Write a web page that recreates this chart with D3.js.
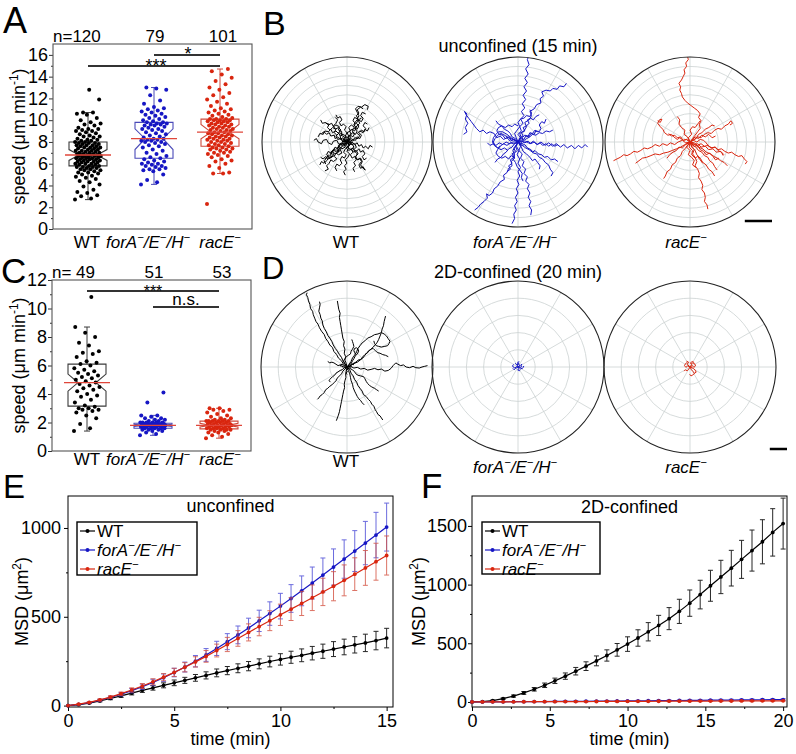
<!DOCTYPE html>
<html><head><meta charset="utf-8">
<script src="https://cdn.jsdelivr.net/npm/d3@7"></script>
<style>body{margin:0;background:#fff} svg text{font-family:"Liberation Sans",Arial,Helvetica,sans-serif;fill:#000}</style>
</head><body><svg id="c" width="796" height="754"></svg>
<script>
// ================= DATA =================
const cats = ["WT", "forA", "racE"];

// Panel A: speeds (µm/min), unconfined
const speedA_WT = [2.7,2.8,3.0,3.1,3.3,3.4,3.6,3.9,4.1,4.3,4.4,4.6,4.7,4.8,4.9,5.0,5.1,5.2,5.2,5.3,5.4,5.4,5.5,5.5,5.6,5.6,5.7,5.7,5.7,5.8,
 5.8,5.9,5.9,6.0,6.0,6.0,6.1,6.1,6.2,6.2,6.2,6.3,6.3,6.4,6.4,6.4,6.5,6.5,6.5,6.6,6.6,6.6,6.7,6.7,6.7,6.7,6.8,6.8,6.8,6.8,
 6.9,6.9,6.9,7.0,7.0,7.0,7.1,7.1,7.2,7.2,7.2,7.3,7.3,7.4,7.4,7.5,7.5,7.5,7.6,7.6,7.7,7.7,7.7,7.8,7.8,7.9,7.9,7.9,8.0,8.0,
 8.1,8.1,8.2,8.2,8.3,8.4,8.5,8.5,8.6,8.7,8.8,8.9,9.0,9.0,9.1,9.2,9.2,9.3,9.5,9.6,9.7,9.8,10.0,10.2,10.5,10.6,10.7,10.7,11.9,12.8];
const speedA_for = [4.1,4.3,4.5,5.0,5.3,5.4,5.5,5.5,5.6,5.7,5.8,5.8,5.9,6.0,6.0,6.1,6.2,6.3,6.4,6.5,
 6.6,6.7,6.9,7.0,7.2,7.3,7.5,7.6,7.7,7.8,7.9,8.0,8.0,8.1,8.1,8.2,8.2,8.3,8.3,
 8.4,8.5,8.6,8.7,8.8,8.9,9.0,9.1,9.2,9.2,9.3,9.4,9.5,9.5,9.6,9.6,9.7,9.7,9.8,9.8,
 9.9,10.0,10.1,10.2,10.3,10.4,10.5,10.6,10.7,10.8,10.9,11.0,11.1,11.2,11.5,11.8,12.3,12.8,12.9,13.0];
const speedA_rac = [2.3,5.1,5.1,5.2,5.6,5.8,6.0,6.2,6.3,6.4,6.6,6.7,6.8,6.9,7.0,7.0,7.1,7.2,7.3,7.3,7.4,7.4,7.5,7.5,7.6,
 7.7,7.7,7.8,7.8,7.9,8.0,8.0,8.1,8.1,8.2,8.2,8.3,8.3,8.4,8.4,8.5,8.5,8.6,8.6,8.7,8.7,8.8,8.8,8.9,8.9,
 9.0,9.0,9.1,9.1,9.2,9.2,9.3,9.3,9.4,9.4,9.5,9.5,9.6,9.6,9.7,9.7,9.8,9.8,9.9,9.9,10.0,10.0,10.0,10.1,10.1,10.1,
 10.2,10.3,10.4,10.5,10.6,10.7,10.8,10.9,11.0,11.1,11.3,11.5,11.7,11.9,12.1,12.3,12.5,12.8,13.0,13.3,13.6,13.9,14.2,14.5,14.7];
// box stats: [whiskerLo, Q1, median, Q3, whiskerHi, notchLo, notchHi]
const statsA_WT = [2.7, 5.8, 6.8, 8.0, 10.7, 6.3, 7.3];
const statsA_for = [4.1, 6.5, 8.3, 9.8, 13.0, 7.3, 9.2];
const statsA_rac = [5.1, 7.6, 8.9, 10.1, 14.7, 8.3, 9.6];
const ticksA = [0,2,4,6,8,10,12,14,16];
const minorA = [1,3,5,7,9,11,13,15];

// Panel C: speeds (µm/min), 2D-confined
const speedC_WT = [1.4,1.6,1.9,2.3,2.5,2.7,2.8,2.9,2.9,3.0,3.0,3.1,
 3.2,3.4,3.6,3.8,3.9,4.0,4.2,4.3,4.4,4.5,4.6,4.7,
 4.8,4.9,5.0,5.1,5.2,5.3,5.4,5.5,5.6,5.7,5.8,6.0,6.1,
 6.2,6.3,6.6,6.8,6.9,7.0,7.4,7.6,8.0,8.3,8.7,10.8];
const speedC_for = [1.1,1.2,1.3,1.4,1.4,1.5,1.5,1.5,1.6,1.6,1.6,1.6,1.6,
 1.7,1.7,1.7,1.7,1.7,1.7,1.8,1.8,1.8,1.8,1.8,1.8,1.8,
 1.8,1.9,1.9,1.9,1.9,1.9,1.9,1.9,2.0,2.0,2.0,2.0,
 2.0,2.0,2.1,2.1,2.2,2.2,2.3,2.3,2.4,2.5,2.5,3.4,4.1];
const speedC_rac = [0.9,1.0,1.1,1.2,1.3,1.3,1.4,1.4,1.5,1.5,1.5,1.5,1.6,
 1.6,1.6,1.6,1.7,1.7,1.7,1.7,1.7,1.8,1.8,1.8,1.8,1.8,
 1.9,1.9,1.9,1.9,2.0,2.0,2.0,2.0,2.1,2.1,2.1,2.1,2.1,2.1,
 2.2,2.2,2.3,2.3,2.4,2.5,2.6,2.7,2.8,2.9,2.9,3.0,3.0];
const statsC_WT = [1.4, 3.15, 4.8, 6.1, 8.7, 4.2, 5.4];
const statsC_for = [1.1, 1.6, 1.8, 1.95, 2.5, 1.72, 1.88];
const statsC_rac = [0.9, 1.55, 1.8, 2.1, 3.0, 1.68, 1.95];
const ticksC = [0,2,4,6,8,10,12];
const minorC = [1,3,5,7,9,11];

// Panel B trajectories (µm, polar radius 100), unconfined 15 min
const tracksB_WT = [
"0,0 3,2 1,6 4,8 7,6 9,10 6,13 8,17 12,15 14,19 11,22 13,26 17,24 19,28 16,31 18,35 22,33",
"0,0 -2,3 -6,2 -8,6 -5,9 -9,11 -12,8 -15,11 -13,15 -17,17 -20,14 -23,17 -21,21 -25,22",
"0,0 -3,-2 -2,-6 -6,-8 -9,-5 -12,-8 -10,-12 -14,-14 -17,-11 -20,-14 -18,-18 -22,-20 -25,-17 -28,-20 -31,-18",
"0,0 2,-3 6,-2 8,-6 5,-9 8,-12 11,-10 13,-14 10,-17 12,-21 15,-19 17,-23 14,-27 16,-31 19,-29 21,-33",
"0,0 -4,1 -6,-3 -10,-2 -12,2 -16,1 -18,-3 -22,-1 -24,3 -28,2 -30,-2 -34,0 -36,4 -39,2",
"0,0 1,4 -2,7 0,11 -3,14 -1,18 -4,21 -7,19 -9,23 -6,26 -8,30 -11,28 -13,32",
"0,0 4,-1 6,3 10,2 12,6 15,4 17,8 14,11 17,14 20,12 22,16 19,19 21,23 24,21",
"0,0 -1,-4 2,-7 0,-11 3,-14 1,-18 -2,-21 0,-25 -3,-28 -1,-32 -4,-35 -2,-39",
"0,0 -3,3 -1,7 -5,9 -8,7 -10,11 -7,14 -10,17 -14,15 -16,19 -13,22 -11,26 -14,29",
"0,0 3,3 7,1 9,5 13,4 15,8 12,10 15,13 19,11 21,15 24,13 26,17",
"0,0 -4,-3 -7,-1 -10,-5 -8,-9 -12,-11 -15,-8 -17,-12 -15,-16 -19,-18 -22,-15 -24,-19 -27,-22 -25,-26",
"0,0 2,-4 -1,-7 2,-10 5,-8 7,-12 4,-15 6,-19 9,-17 11,-21 8,-24 10,-28 7,-31 9,-35",
"0,0 -2,2 -5,0 -7,4 -11,3 -13,7 -10,10 -13,13 -17,11 -19,15 -22,12 -26,13 -28,9 -32,10 -34,6",
"0,0 3,2 2,6 5,9 3,13 6,15 9,13 11,17 8,20 10,24 13,27 11,31 14,34 12,38 16,41 19,39",
"0,0 -3,-3 -6,-1 -9,-4 -11,-8 -14,-6 -16,-10 -19,-13 -22,-11 -24,-15 -21,-18 -24,-22 -27,-25 -30,-23 -32,-27",
"0,0 4,1 5,-3 9,-2 11,-6 8,-9 11,-11 14,-8 16,-12 19,-10 21,-14 18,-17 20,-21 23,-19",
"0,0 -1,4 2,7 0,11 4,13 2,17 5,20 8,18 10,22 7,25 9,29 12,27 14,31 12,35 10,39 13,42 17,41 21,44 25,42 24,38",
"0,0 -3,1 -5,5 -8,3 -11,6 -14,4 -15,8 -19,7 -21,11 -24,9 -27,12 -30,10",
"0,0 2,-2 1,-6 -2,-8 -4,-12 -1,-15 -3,-19 -6,-17 -8,-21 -6,-25 -9,-28 -12,-26 -14,-30 -12,-34",
"0,0 3,-3 6,0 9,-3 12,-1 14,-5 17,-3 19,-7 22,-5 25,-8 27,-4 30,-6",
"0,0 -2,-4 -6,-5 -8,-9 -6,-13 -10,-15 -13,-13 -15,-17 -12,-20 -16,-23 -19,-21 -21,-25 -24,-28 -22,-32 -26,-34",
"0,0 1,3 5,4 3,8 6,11 10,9 12,13 9,16 12,19 15,22 13,26 17,28",
"0,0 -4,2 -3,6 -7,8 -6,12 -10,14 -9,18 -13,20 -16,18 -18,22 -22,20 -25,23 -29,22 -31,26",
"0,0 2,1 4,-3 1,-6 4,-9 7,-7 9,-11 12,-14 10,-18 13,-21 16,-19 18,-23 16,-27 19,-31 22,-33",
"0,0 -3,0 -5,-4 -9,-3 -11,-7 -9,-11 -13,-12 -16,-9 -19,-12 -17,-16 -20,-19 -23,-17 -26,-20"
];
const tracksB_for = [
"0,0 3,5 0,9 4,13 2,18 6,22 3,27 7,31 4,36 8,40 5,45 9,50 6,55 10,60 7,65 11,70 8,75 12,80 9,86 13,91 11,97 14,104",
"0,0 4,5 2,10 7,13 10,18 8,23 13,26 16,31 14,36 19,39 22,44 27,46 26,51 30,54 28,59 33,61 38,60 41,63 46,62 49,66 54,65 57,69",
"0,0 -5,3 -9,1 -13,5 -17,3 -21,7 -25,5 -28,10 -33,12 -37,10 -41,14 -45,12 -49,16 -52,20 -55,24 -58,28 -61,32 -63,36 -60,33 -62,27 -59,22 -62,17 -60,12 -64,9",
"0,0 5,-2 9,1 14,-2 18,1 23,-3 27,0 32,-4 36,-1 41,-5 45,-2 50,-6 54,-3 58,-7 63,-4 67,-8 71,-4 75,-7 79,-3 82,-6",
"0,0 -3,-5 -1,-10 -5,-14 -4,-19 -8,-23 -7,-28 -11,-31 -13,-36 -17,-39 -16,-44 -21,-47 -24,-52 -28,-55 -30,-60 -34,-63 -37,-61 -36,-66 -40,-70 -44,-73 -47,-77 -51,-80",
"0,0 -2,-5 1,-10 -1,-15 2,-20 0,-25 3,-30 0,-35 2,-40 -1,-45 1,-50 -2,-55 0,-60 -3,-65 -1,-70 -4,-75 -2,-80 -5,-85 -4,-90 -7,-96",
"0,0 3,-5 1,-10 5,-14 3,-19 7,-23 5,-28 9,-32 7,-37 11,-41 9,-46 13,-50 11,-55 14,-60 12,-65 15,-70 13,-75 16,-80 15,-86",
"0,0 4,-4 8,-3 11,-7 15,-9 18,-13 22,-14 25,-18 29,-20 32,-24 36,-27 38,-32 41,-36 39,-40",
"0,0 -4,3 -8,2 -11,6 -15,4 -18,8 -22,9 -25,13 -23,17 -19,19 -15,17 -11,20 -7,18 -4,21 0,19",
"0,0 -5,-2 -9,-1 -13,-4 -17,-2 -21,-5 -24,-9 -26,-13 -23,-17 -19,-19 -15,-17 -11,-20 -8,-16 -4,-19",
"0,0 3,4 7,3 9,7 13,6 15,10 19,9 21,13 25,12 27,16 25,20 28,24 31,22 33,27",
"0,0 4,2 8,-1 12,1 15,-2 19,0 22,-3 26,-1 29,-4 33,-2 36,-5 40,-2 43,-5 47,-3",
"0,0 -2,-4 -5,-7 -3,-11 -7,-14 -5,-18 -9,-21 -7,-25 -11,-28 -9,-32 -13,-35",
"0,0 2,5 6,7 4,11 8,13 6,17 10,19 13,22 11,26 15,28 18,26 21,30 25,32",
"0,0 -6,3 -11,5 -16,8 -20,10 -24,8 -27,4 -29,0 -27,-4 -24,-7 -20,-9 -16,-7 -12,-10",
"0,0 5,-4 9,-7 13,-9 17,-12 20,-10 24,-14 28,-15 31,-18 35,-17 39,-21 43,-20 47,-23",
"0,0 -2,5 -4,10 -1,14 2,18 0,23 3,27 7,28 10,31 14,30 16,34 14,38",
"0,0 6,1 10,4 14,6 17,9 21,8 25,11 29,10 33,13 37,12 41,14",
"0,0 -3,-5 -6,-10 -4,-15 -6,-20 -3,-24 -1,-29 2,-33 5,-37 4,-42 6,-46",
"0,0 -6,0 -10,-2 -14,0 -18,-3 -22,-1 -26,-4 -29,-2 -33,-4 -36,-1",
"0,0 -8,5 -13,9 -18,12 -23,12 -26,9 -29,5 -30,0 -28,-4 -24,-7 -21,-5",
"0,0 4,-6 6,-11 10,-14 14,-18 17,-22 20,-20 23,-24 26,-28 25,-32",
"0,0 -3,4 -7,6 -9,10 -12,13 -16,15 -19,19 -23,21 -26,25",
"0,0 3,-2 6,1 5,5 8,8 12,7 14,11 17,10 20,14 23,12",
"0,0 -4,-2 -7,-6 -11,-8 -14,-12 -17,-14 -20,-18 -24,-20 -27,-24"
];
const tracksB_rac = [
"0,0 3,4 6,8 9,12 12,16 11,21 13,25 10,29 12,33 9,37 5,40 1,43 -3,46 -6,49 -9,53 -10,57 -12,61 -11,65 -13,69 -10,73 -8,77 -6,81 -7,85 -4,89 -5,93 -2,97 -3,101 -1,106",
"0,0 -5,-1 -9,2 -14,0 -18,-3 -23,-1 -27,-4 -32,-2 -36,-5 -41,-3 -45,-6 -50,-8 -54,-7 -58,-10 -62,-12 -66,-11 -70,-14 -74,-16 -78,-15 -82,-18 -86,-20 -90,-22",
"0,0 -4,3 -8,2 -12,5 -15,3 -19,6 -22,9 -26,8 -30,11 -32,15 -35,18 -38,22 -36,26 -33,27 -35,23 -38,25",
"0,0 5,-1 9,-4 13,-2 17,-5 21,-4 25,-7 29,-6 33,-9 37,-8 41,-11 45,-13 49,-12 53,-15 57,-17 61,-16 64,-20 67,-23 65,-26",
"0,0 2,-5 5,-9 3,-14 6,-18 8,-23 6,-28 9,-32 11,-37 10,-42 13,-46 15,-51 14,-56 17,-60 18,-65 17,-70 20,-74 21,-79",
"0,0 -3,-4 -6,-8 -9,-11 -11,-16 -15,-19 -17,-24 -21,-27 -23,-32 -27,-35 -29,-40 -31,-43",
"0,0 5,3 9,6 13,5 17,9 21,11 25,10 29,14 33,16 37,15 41,19 45,21 48,25 50,22 47,20",
"0,0 -6,-3 -11,-6 -16,-8 -21,-10 -26,-12 -31,-13 -36,-15 -41,-14 -46,-16 -51,-18 -56,-19 -60,-22 -64,-25",
"0,0 4,2 8,0 12,3 16,2 19,-1 22,-5 26,-7 30,-6 33,-10 37,-12 39,-16",
"0,0 -4,3 -8,2 -11,6 -15,5 -18,8 -22,7 -25,10",
"0,0 3,-4 7,-6 10,-10 14,-12 17,-16 21,-18 23,-22 27,-25 29,-29 32,-33",
"0,0 -2,5 2,9 0,14 3,18 6,17 9,21 12,25",
"0,0 6,-3 10,-6 15,-8 19,-12 24,-14 28,-17 32,-19 36,-22 40,-24 44,-28",
"0,0 -5,-3 -9,-7 -13,-6 -16,-10 -20,-12 -24,-15 -27,-19",
"0,0 2,-6 6,-10 8,-15 12,-19 15,-24 19,-27 22,-32 26,-35 29,-40",
"0,0 -3,6 -7,9 -6,14 -10,17 -13,21 -12,26 -15,30",
"0,0 7,4 10,9 14,11 18,15 22,17 26,20 29,19",
"0,0 4,-3 9,-2 13,-6 18,-5 22,-9 27,-8 31,-12 36,-11 40,-15",
"0,0 -1,-6 3,-10 2,-15 6,-19 9,-17 12,-21 15,-25",
"0,0 6,6 10,4 14,8 18,6 22,9 26,5 30,7",
"0,0 5,-5 9,-4 12,-9 16,-11 19,-15 23,-13 27,-17 30,-21 34,-19",
"0,0 -4,-6 0,-10 -2,-15 2,-18 5,-22 3,-27 7,-30"
];
// Panel D trajectories (µm, polar radius 250), 2D-confined 20 min
const tracksD_WT = [
"0,0 -10,8 -16,18 -25,26 -30,36 -38,45 -42,56 -50,64 -56,75 -62,83 -66,94 -74,104 -80,114 -84,124 -90,132 -94,142 -98,152 -100,162 -106,170 -108,182 -112,192 -114,202 -118,210 -116,216",
"0,0 -6,10 -12,18 -16,28 -22,36 -28,46 -34,54 -40,64 -44,74 -50,84 -56,92 -60,102 -66,112 -70,122 -72,134 -76,142 -78,152 -82,162 -80,172 -78,182 -80,190",
"0,0 -2,10 -6,20 -4,30 -8,40 -6,52 -10,62 -8,74 -12,84 -14,96 -16,108 -18,120 -20,132 -22,144 -20,156 -24,168 -26,180 -28,192",
"0,0 6,8 12,16 16,26 22,34 28,44 32,54 38,62 44,70 52,76 60,84 70,88 80,94 90,96 100,100 108,96 115,90 120,82 125,75 122,68 118,62 110,60 100,58 92,60 85,62 80,68 78,76",
"0,0 10,4 18,10 26,14 32,20 40,22 46,30 52,36 58,40 64,46 70,52 76,58 82,64 88,72 92,80 96,90 100,100 102,110 106,120 108,132 110,140 112,148",
"0,0 10,2 20,-3 30,-1 40,-6 50,-4 60,-9 70,-7 80,-4 90,-8 100,-6 110,-12 120,-10 128,-4 134,4 142,12 148,8 156,4 164,6 172,0 182,-2 192,2 200,-2 210,-3 218,0 226,2 234,4",
"0,0 8,-8 12,-18 18,-26 22,-36 28,-44 32,-54 38,-62 44,-70 48,-80 56,-86 62,-94 68,-100 72,-108 78,-114 82,-124 86,-130 90,-138 96,-142 100,-148 104,-154",
"0,0 4,-10 8,-20 10,-30 12,-40 16,-50 18,-60 22,-70 26,-78 30,-86 34,-92 40,-98 44,-104 50,-110",
"0,0 -6,-6 -12,-12 -16,-20 -22,-26 -28,-32 -32,-40 -38,-46 -44,-52 -50,-56 -56,-62 -62,-66 -66,-74 -72,-80 -78,-84 -82,-90 -86,-94",
"0,0 -2,-10 -4,-20 -3,-30 -6,-40 -8,-50 -7,-60 -10,-70 -12,-80 -14,-90 -16,-100 -18,-110 -20,-120 -22,-130 -25,-140 -28,-148 -31,-156",
"0,0 -8,-2 -14,-8 -20,-10 -26,-14 -32,-18 -36,-24 -42,-28 -46,-32 -50,-36 -52,-40 -48,-44",
"0,0 6,6 12,10 16,18 20,24 24,32 30,38 34,46 32,52 28,56 22,54 20,48 22,42 26,36",
"0,0 -8,4 -14,8 -20,6 -26,4 -32,8 -38,12 -44,14 -50,12 -56,16",
"0,0 10,4 20,10 30,14 38,20 46,26 52,34 58,42 64,48 70,52 76,54 82,48 88,42 96,40 104,36 112,34 120,30",
"0,0 8,-4 16,-8 22,-14 26,-20 32,-24 40,-26 48,-28 52,-34 56,-42 60,-48 66,-54 72,-58 80,-62 86,-66 92,-70",
"0,0 -4,6 -8,12 -10,18 -6,24 -2,30 4,34 10,38 12,46 16,52 20,60 18,68 16,74 14,80",
"0,0 5,3 8,-2 12,1 10,6 14,9 18,6 20,10",
"0,0 -5,-3 -8,2 -12,-1 -14,4 -18,2 -20,6",
"0,0 3,-6 -2,-9 1,-14 -3,-17 0,-22"
];
const tracksD_for = [
"0,0 4,3 7,-1 11,1 8,6 12,8",
"0,0 -5,1 -9,-3 -14,0 -16,4 -12,7",
"0,0 3,-5 -1,-8 4,-11 7,-7",
"0,0 -3,7 3,9 -1,14 4,15",
"0,0 7,-3 12,-5 15,-1 17,3",
"0,0 -7,-4 -11,-8 -15,-4",
"0,0 5,5 0,10 -5,7 -8,11"
];
const tracksD_rac = [
"0,0 7,4 11,-1 16,3 14,9 8,12 3,8",
"0,0 -7,3 -12,-1 -16,4 -13,10 -8,13",
"0,0 4,-8 9,-13 13,-19 8,-23 3,-26 -1,-21",
"0,0 -4,-7 -9,-11 -13,-8 -17,-12",
"0,0 5,7 1,12 7,16 12,13",
"0,0 10,-4 15,-9 18,-15 13,-18",
"0,0 -8,8 -4,14 -10,17"
];

// Panel E: MSD (µm²) vs time (min), unconfined
const timeE = [0,0.5,1,1.5,2,2.5,3,3.5,4,4.5,5,5.5,6,6.5,7,7.5,8,8.5,9,9.5,10,10.5,11,11.5,12,12.5,13,13.5,14,14.5,15];
const msdE_WT  = [0,5,14,26,40,55,70,86,100,114,128,142,156,170,184,197,210,222,235,248,260,272,283,295,306,318,330,342,353,366,380];
const errE_WT  = [0,1,3,5,7,9,10,12,13,14,16,17,19,20,22,23,25,26,28,30,32,34,36,38,40,42,44,46,49,52,55];
const msdE_for = [0,7,17,30,46,64,84,106,130,157,186,217,250,285,322,360,398,437,477,518,560,603,646,690,735,780,825,870,915,960,1005];
const errE_for = [0,1,3,5,7,10,12,15,18,21,24,28,32,36,40,45,50,55,60,66,72,78,84,90,96,102,108,115,122,128,135];
const msdE_rac = [0,8,18,32,48,67,88,110,134,160,187,216,246,277,310,344,378,412,445,478,511,543,575,607,640,672,705,740,775,810,845];
const errE_rac = [0,1,3,5,7,9,12,14,17,20,23,26,29,33,36,40,44,48,52,56,60,64,68,72,77,82,87,92,98,104,110];

// Panel F: MSD (µm²) vs time (min), 2D-confined
const timeF = [0,0.67,1.33,2,2.67,3.33,4,4.67,5.33,6,6.67,7.33,8,8.67,9.33,10,10.67,11.33,12,12.67,13.33,14,14.67,15.33,16,16.67,17.33,18,18.67,19.33,20];
const msdF_WT  = [0,3,12,28,50,77,108,142,180,220,262,305,350,396,444,493,545,598,652,710,772,842,915,990,1065,1140,1215,1290,1365,1445,1520];
const errF_WT  = [0,2,4,6,9,12,15,19,23,27,32,37,42,48,54,62,70,78,86,94,103,112,122,132,142,152,162,175,188,202,217];
const msdF_for = [0,0.5,1,1.5,2,2.5,3,3.6,4.2,4.8,5.4,6,6.7,7.4,8,8.7,9.4,10.1,10.8,11.6,12.4,13.2,14,14.8,15.6,16.4,17.2,18,18.8,19.6,20.5];
const errF_for = [0,1,1,1,2,2,2,2,3,3,3,3,3,4,4,4,4,4,5,5,5,5,5,6,6,6,6,7,7,7,7];
const msdF_rac = [0,0.3,0.7,1,1.3,1.7,2,2.3,2.7,3,3.3,3.6,4,4.3,4.6,5,5.3,5.6,6,6.3,6.6,7,7.3,7.6,8,8.3,8.6,9,9.3,9.6,10];
const errF_rac = [0,1,1,1,1,1,2,2,2,2,2,2,2,2,3,3,3,3,3,3,3,3,4,4,4,4,4,4,4,4,4];

const ticksE_x = [0,5,10,15], minorE_x = [2.5,7.5,12.5];
const ticksE_y = [0,500,1000], minorE_y = [250,750];
const ticksF_x = [0,5,10,15,20], minorF_x = [2.5,7.5,12.5,17.5];
const ticksF_y = [0,500,1000,1500], minorF_y = [250,750,1250];

// ================= STYLE =================
const COL = {WT: "#000000", forA: "#1616c4", racE: "#d9260f"};
const BOXCOL = {WT: "#3a3a3a", forA: "#4a4ab8", racE: "#cf4a3c"};
const ERRCOL = {WT: "#000000", forA: "#4747d6", racE: "#d4503f"};
const LABEL = {
  WT: [["WT",0]],
  forA: [["forA",0],["\u2212",1],["/E",0],["\u2212",1],["/H",0],["\u2212",1]],
  racE: [["racE",0],["\u2212",1]]
};
const ITALIC = {WT:false, forA:true, racE:true};

const svg = d3.select("#c");
const parse = s => s.trim().split(/\s+/).map(p => p.split(",").map(Number));

function rich(g, x, y, parts, o = {}) {
  const size = o.size || 17;
  const t = g.append("text").attr("font-size", size).attr("text-anchor", o.anchor || "middle");
  if (o.rotate) t.attr("transform", `translate(${x},${y}) rotate(-90)`);
  else t.attr("x", x).attr("y", y);
  if (o.italic) t.attr("font-style", "italic");
  let up = false;
  parts.forEach(([s, sup]) => {
    const ts = t.append("tspan").text(s);
    if (sup) { ts.attr("font-size", size * 0.66); if (!up) { ts.attr("dy", -size * 0.4); up = true; } }
    else if (up) { ts.attr("dy", size * 0.4); up = false; }
  });
  return t;
}
function letter(ch, x, y, size) {
  svg.append("text").attr("x", x).attr("y", y).attr("font-size", size).text(ch);
}

// ================= BOX PANELS =================
function boxPanel(cfg) {
  const g = svg.append("g");
  const {x0, x1, y0, y1} = cfg;
  const y = d3.scaleLinear().domain(cfg.yDomain).range([y1, y0]);
  const x = d3.scalePoint().domain(cats).range([x0 + 2, x1 + 1]).padding(0.5);
  const ax = g.append("g").attr("transform", `translate(${x0},0)`)
    .call(d3.axisLeft(y).tickValues(cfg.ticks).tickSize(4).tickPadding(1).tickFormat(d3.format("d")));
  ax.select(".domain").remove();
  ax.selectAll("text").attr("font-size", 18).attr("font-family", null);
  ax.selectAll("line").attr("stroke", "#333");
  const mx = g.append("g").attr("transform", `translate(${x0},0)`)
    .call(d3.axisLeft(y).tickValues(cfg.minor).tickSize(2).tickFormat(""));
  mx.select(".domain").remove();
  mx.selectAll("line").attr("stroke", "#333");
  g.append("rect").attr("x", x0).attr("y", y0).attr("width", x1 - x0).attr("height", y1 - y0)
    .attr("fill", "none").attr("stroke", "#555").attr("stroke-width", 1.1);
  const bw = 38, ind = 10;
  cats.forEach((c, ci) => {
    const st = cfg.stats[ci], cx = x(c);
    const [lo, q1, med, q3, hi, nl, nh] = st;
    const L = cx - bw / 2, R = cx + bw / 2;
    const pts = [[L, y(q3)], [R, y(q3)], [R, y(nh)], [R - ind, y(med)], [R, y(nl)], [R, y(q1)],
                 [L, y(q1)], [L, y(nl)], [L + ind, y(med)], [L, y(nh)]];
    g.append("path").attr("d", d3.line()(pts) + "Z").attr("fill", "none")
      .attr("stroke", BOXCOL[c]).attr("stroke-width", 1.1);
    g.append("line").attr("x1", cx).attr("x2", cx).attr("y1", y(q3)).attr("y2", y(hi)).attr("stroke", BOXCOL[c]);
    g.append("line").attr("x1", cx).attr("x2", cx).attr("y1", y(q1)).attr("y2", y(lo)).attr("stroke", BOXCOL[c]);
    g.append("line").attr("x1", cx - 3).attr("x2", cx + 3).attr("y1", y(hi)).attr("y2", y(hi)).attr("stroke", BOXCOL[c]);
    g.append("line").attr("x1", cx - 3).attr("x2", cx + 3).attr("y1", y(lo)).attr("y2", y(lo)).attr("stroke", BOXCOL[c]);
    g.append("g").selectAll("circle").data(cfg.data[ci]).join("circle")
      .attr("cx", (d, i) => cx + (((i * 0.618034) % 1) - 0.5) * 26)
      .attr("cy", d => y(d)).attr("r", 2.0).attr("fill", COL[c]);
    g.append("line").attr("x1", cx - 23).attr("x2", cx + 23).attr("y1", y(med)).attr("y2", y(med))
      .attr("stroke", "#e0463a").attr("stroke-width", 1.3);
    g.append("text").attr("x", ci === 0 ? x0 : x(c) + (ci === 1 ? 1 : 3)).attr("y", cfg.nY)
      .attr("text-anchor", ci === 0 ? "start" : "middle").attr("font-size", 17)
      .text((ci === 0 ? cfg.nPrefix : "") + cfg.data[ci].length);
    rich(g, cfg.labX[ci], cfg.labY, LABEL[c], {size: 17, italic: ITALIC[c]});
  });
  cfg.brackets.forEach(b => {
    g.append("line").attr("x1", x(b.a)).attr("x2", x(b.b)).attr("y1", b.y).attr("y2", b.y)
      .attr("stroke", "#333").attr("stroke-width", 2);
    g.append("text").attr("x", b.tx).attr("y", b.ty).attr("text-anchor", "middle")
      .attr("font-size", b.size || 18).text(b.text);
  });
  rich(g, 25, (y0 + y1) / 2, [["speed (\u03bcm min",0],["-1",1],[")",0]], {size: 18, rotate: true});
}

boxPanel({x0: 53, x1: 252, y0: 44, y1: 229, yDomain: [0, 17], ticks: ticksA, minor: minorA,
  data: [speedA_WT, speedA_for, speedA_rac], stats: [statsA_WT, statsA_for, statsA_rac],
  nY: 42, nPrefix: "n=", labY: 248, labX: [87, 148, 220],
  brackets: [{a: "forA", b: "racE", y: 55, text: "*", tx: 188, ty: 60},
             {a: "WT", b: "racE", y: 66, text: "***", tx: 156, ty: 72}]});
boxPanel({x0: 52, x1: 251, y0: 280, y1: 451, yDomain: [0, 12], ticks: ticksC, minor: minorC,
  data: [speedC_WT, speedC_for, speedC_rac], stats: [statsC_WT, statsC_for, statsC_rac],
  nY: 278, nPrefix: "n= ", labY: 465, labX: [87, 148, 220],
  brackets: [{a: "WT", b: "racE", y: 291, text: "***", tx: 153, ty: 297, size: 16},
             {a: "forA", b: "racE", y: 307, text: "n.s.", tx: 186, ty: 305, size: 17}]});

// ================= POLAR TRAJECTORIES =================
let clipId = 0;
function polar(cx, cy, r, rings, Rmax, tracks, col) {
  const g = svg.append("g").attr("transform", `translate(${cx},${cy})`);
  const s = d3.scaleLinear().domain([0, Rmax]).range([0, r]);
  for (let i = 1; i < rings; i++) {
    g.append("circle").attr("r", r * i / rings).attr("fill", "none").attr("stroke", "#cbd2d2").attr("stroke-width", 0.8);
  }
  for (let k = 0; k < 6; k++) {
    const a = k * Math.PI / 6;
    g.append("line").attr("x1", -r * Math.cos(a)).attr("y1", -r * Math.sin(a))
      .attr("x2", r * Math.cos(a)).attr("y2", r * Math.sin(a)).attr("stroke", "#cbd2d2").attr("stroke-width", 0.8);
  }
  const id = "clip" + (clipId++);
  g.append("clipPath").attr("id", id).append("circle").attr("r", r);
  const line = d3.line().x(d => s(d[0])).y(d => -s(d[1]));
  g.append("g").attr("clip-path", `url(#${id})`).selectAll("path").data(tracks.map(parse)).join("path")
    .attr("d", line).attr("fill", "none").attr("stroke", col).attr("stroke-width", 1)
    .attr("stroke-linejoin", "round");
  g.append("circle").attr("r", r).attr("fill", "none").attr("stroke", "#222").attr("stroke-width", 1.1);
  return s;
}
const pcx = [347, 518, 690];
const sB = polar(pcx[0], 142, 85, 9, 100, tracksB_WT, COL.WT);
polar(pcx[1], 142, 85, 9, 100, tracksB_for, COL.forA);
polar(pcx[2], 142, 85, 9, 100, tracksB_rac, COL.racE);
const sD = polar(pcx[0], 367, 86, 5, 250, tracksD_WT, COL.WT);
polar(pcx[1], 367, 86, 5, 250, tracksD_for, COL.forA);
polar(pcx[2], 367, 86, 5, 250, tracksD_rac, COL.racE);
svg.append("line").attr("x1", 772 - sB(32)).attr("x2", 772).attr("y1", 221).attr("y2", 221).attr("stroke", "#000").attr("stroke-width", 2.5);
svg.append("line").attr("x1", 787 - sD(50)).attr("x2", 787).attr("y1", 449).attr("y2", 449).attr("stroke", "#000").attr("stroke-width", 2.5);
svg.append("text").attr("x", 518).attr("y", 52).attr("text-anchor", "middle").attr("font-size", 18).text("unconfined (15 min)");
svg.append("text").attr("x", 518).attr("y", 278).attr("text-anchor", "middle").attr("font-size", 18).text("2D-confined (20 min)");
const labXpol = [346, 515, 686];
cats.forEach((c, i) => {
  rich(svg, labXpol[i], 248, LABEL[c], {size: 17, italic: ITALIC[c]});
  rich(svg, labXpol[i], i === 0 ? 467 : 473, LABEL[c], {size: 17, italic: ITALIC[c]});
});

// ================= MSD PANELS =================
function msdPanel(cfg) {
  const g = svg.append("g");
  const {x0, x1, y0, y1} = cfg;
  const x = d3.scaleLinear().domain(cfg.xDom).range([x0, x1]);
  const y = d3.scaleLinear().domain(cfg.yDom).range([y1, y0]);
  const style = a => { a.select(".domain").remove(); a.selectAll("text").attr("font-size", 18).attr("font-family", null); };
  g.append("g").attr("transform", `translate(0,${y1})`)
    .call(d3.axisBottom(x).tickValues(cfg.xT).tickSize(4).tickPadding(3).tickFormat(d3.format("d"))).call(style);
  g.append("g").attr("transform", `translate(0,${y1})`)
    .call(d3.axisBottom(x).tickValues(cfg.xM).tickSize(2).tickFormat("")).call(style);
  g.append("g").attr("transform", `translate(${x0},0)`)
    .call(d3.axisLeft(y).tickValues(cfg.yT).tickSize(4).tickPadding(cfg.yPad).tickFormat(d3.format("d"))).call(style);
  g.append("g").attr("transform", `translate(${x0},0)`)
    .call(d3.axisLeft(y).tickValues(cfg.yM).tickSize(2).tickFormat("")).call(style);
  g.append("rect").attr("x", x0).attr("y", y0).attr("width", x1 - x0).attr("height", y1 - y0)
    .attr("fill", "none").attr("stroke", "#000").attr("stroke-width", 1);
  cfg.series.forEach(s => {
    const pts = s.t.map((t, i) => ({t, v: s.v[i], e: s.e[i]}));
    const eg = g.append("g").attr("stroke", ERRCOL[s.k]).attr("stroke-width", 1).attr("opacity", s.k === "WT" ? 0.85 : 0.8);
    pts.forEach(p => {
      if (p.e <= 0) return;
      const xx = x(p.t);
      eg.append("line").attr("x1", xx).attr("x2", xx).attr("y1", y(p.v - p.e)).attr("y2", y(p.v + p.e));
      eg.append("line").attr("x1", xx - 2.5).attr("x2", xx + 2.5).attr("y1", y(p.v + p.e)).attr("y2", y(p.v + p.e));
      eg.append("line").attr("x1", xx - 2.5).attr("x2", xx + 2.5).attr("y1", y(p.v - p.e)).attr("y2", y(p.v - p.e));
    });
    g.append("path").datum(pts).attr("d", d3.line().x(d => x(d.t)).y(d => y(d.v)))
      .attr("fill", "none").attr("stroke", COL[s.k]).attr("stroke-width", 1.2);
    g.append("g").selectAll("circle").data(pts).join("circle")
      .attr("cx", d => x(d.t)).attr("cy", d => y(d.v)).attr("r", 1.9).attr("fill", COL[s.k]);
  });
  g.append("text").attr("x", (x0 + x1) / 2).attr("y", cfg.titleY).attr("text-anchor", "middle").attr("font-size", 18).text(cfg.title);
  g.append("text").attr("x", (x0 + x1) / 2).attr("y", 745).attr("text-anchor", "middle").attr("font-size", 18).text("time (min)");
  rich(g, cfg.ylabX, (y0 + y1) / 2, [["MSD (\u03bcm",0],["2",1],[")",0]], {size: 18, rotate: true});
  const L = cfg.leg;
  g.append("rect").attr("x", L.x).attr("y", L.y).attr("width", L.w).attr("height", L.h)
    .attr("fill", "#fff").attr("stroke", "#000").attr("stroke-width", 1.4);
  cats.forEach((c, i) => {
    const yy = L.y + 9 + i * 19;
    g.append("line").attr("x1", L.x + 3).attr("x2", L.x + 18).attr("y1", yy).attr("y2", yy).attr("stroke", COL[c]).attr("stroke-width", 1.2);
    g.append("circle").attr("cx", L.x + 10.5).attr("cy", yy).attr("r", 2).attr("fill", COL[c]);
    rich(g, L.x + 20, yy + 6, LABEL[c], {size: 17, anchor: "start", italic: ITALIC[c]});
  });
}

msdPanel({x0: 68, x1: 393, y0: 496, y1: 707, xDom: [0, 15.3], yDom: [-8, 1180],
  xT: ticksE_x, xM: minorE_x, yT: ticksE_y, yM: minorE_y, yPad: 3,
  series: [{k: "WT", t: timeE, v: msdE_WT, e: errE_WT}, {k: "forA", t: timeE, v: msdE_for, e: errE_for},
           {k: "racE", t: timeE, v: msdE_rac, e: errE_rac}],
  title: "unconfined", titleY: 512, ylabX: 28, leg: {x: 77, y: 522, w: 120, h: 53}});
msdPanel({x0: 472, x1: 787, y0: 496, y1: 707, xDom: [0, 20.25], yDom: [-43, 1755],
  xT: ticksF_x, xM: minorF_x, yT: ticksF_y, yM: minorF_y, yPad: 1,
  series: [{k: "WT", t: timeF, v: msdF_WT, e: errF_WT}, {k: "forA", t: timeF, v: msdF_for, e: errF_for},
           {k: "racE", t: timeF, v: msdF_rac, e: errF_rac}],
  title: "2D-confined", titleY: 513, ylabX: 425, leg: {x: 482, y: 522, w: 118, h: 52}});

letter("A", 3, 33, 36);
letter("B", 263, 35, 34);
letter("C", 1, 283, 35);
letter("D", 262, 279, 31);
letter("E", 3, 498, 33);
letter("F", 421, 498, 35);
</script></body></html>
